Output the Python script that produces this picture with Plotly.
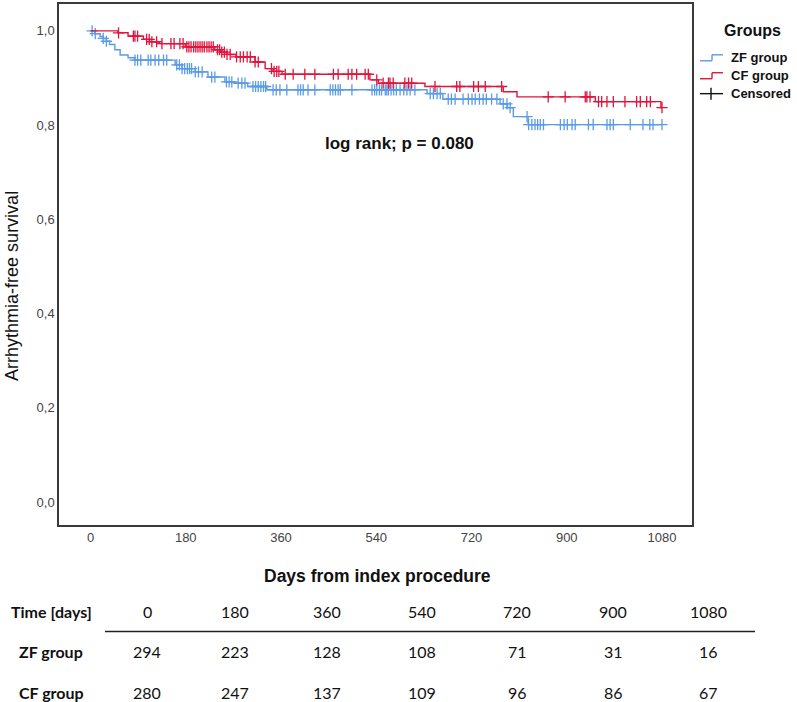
import numpy as np
import plotly.graph_objects as go

# ---------------- data ----------------
zf_event_days = [0, 8, 18, 24, 30, 36, 46, 56, 71, 84, 160, 173, 198, 222, 254, 273, 297, 333,
                 636, 666, 774, 788, 799, 827]
zf_surv = [1.0, 0.994, 0.988, 0.984, 0.978, 0.971, 0.960, 0.949, 0.943, 0.938, 0.928, 0.920,
           0.913, 0.902, 0.892, 0.889, 0.882, 0.875, 0.867, 0.855, 0.845, 0.837, 0.818, 0.801]

cf_event_days = [0, 52, 71, 100, 112, 130, 179, 235, 245, 258, 275, 311, 330, 345, 362, 528, 544,
                 632, 780, 806, 954, 1078]
cf_surv = [1.0, 0.996, 0.989, 0.982, 0.977, 0.973, 0.966, 0.960, 0.955, 0.950, 0.945, 0.934,
           0.920, 0.914, 0.908, 0.896, 0.889, 0.882, 0.871, 0.860, 0.850, 0.837]

zf_censored_days = [3, 9, 24, 30, 84, 89, 95, 109, 114, 122, 129, 138, 144, 163, 168, 173, 178,
                    183, 187, 191, 198, 204, 211, 229, 235, 257, 262, 267, 279, 286, 292, 307,
                    312, 317, 322, 327, 331, 345, 351, 358, 371, 392, 397, 402, 411, 424, 453,
                    458, 463, 468, 472, 494, 532, 537, 541, 546, 550, 557, 563, 560, 568, 573,
                    578, 585, 592, 598, 604, 613, 642, 648, 655, 661, 676, 682, 689, 704, 714,
                    721, 727, 735, 742, 748, 758, 768, 780, 787, 793, 825, 828, 834, 840, 845,
                    850, 856, 888, 895, 901, 910, 916, 941, 950, 976, 982, 988, 1020, 1044,
                    1057, 1063, 1080]
cf_censored_days = [53, 81, 84, 89, 106, 111, 116, 125, 135, 152, 158, 169, 175, 182, 186, 190,
                    195, 199, 203, 207, 211, 215, 220, 224, 228, 232, 240, 244, 248, 253, 258,
                    264, 276, 283, 289, 296, 302, 311, 317, 342, 347, 352, 356, 368, 383, 405,
                    424, 459, 468, 487, 494, 503, 519, 525, 541, 553, 563, 566, 572, 594, 601,
                    607, 651, 692, 698, 724, 733, 746, 777, 865, 897, 935, 938, 944, 960, 966,
                    976, 988, 1010, 1032, 1039, 1051, 1058, 1080]

x_tick_vals = [0, 180, 360, 540, 720, 900, 1080]
y_tick_vals = [0.0, 0.2, 0.4, 0.6, 0.8, 1.0]
y_tick_labels = ["0,0", "0,2", "0,4", "0,6", "0,8", "1,0"]

table_header = ["0", "180", "360", "540", "720", "900", "1080"]
zf_at_risk = [294, 223, 128, 108, 71, 31, 16]
cf_at_risk = [280, 247, 137, 109, 96, 86, 67]

# ---------------- styling ----------------
W, H = 797, 702
L, R, T, B = 59, 692, 2, 525
BLUE = "#5A9BE6"
RED = "#E0143C"
FRAME = "#3a3a3a"
AX_FONT = "Liberation Sans, Arial, sans-serif"
TAB_FONT = "Lato, Open Sans, sans-serif"


def px(xp):
    return (xp - L) / (R - L)


def py(yp):
    return (B - yp) / (B - T)


def step_value(times, surv, t):
    idx = np.searchsorted(np.array(times), np.array(t), side="right") - 1
    return np.array(surv)[idx]


fig = go.Figure()

for name, times, surv, cens, col in [
    ("ZF group", zf_event_days, zf_surv, zf_censored_days, BLUE),
    ("CF group", cf_event_days, cf_surv, cf_censored_days, RED),
]:
    xs = list(times) + [1080]
    ys = list(surv) + [surv[-1]]
    fig.add_trace(go.Scatter(x=xs, y=ys, mode="lines", line=dict(color=col, width=1.4, shape="hv"),
                             name=name, showlegend=False, hoverinfo="skip"))
    fig.add_trace(go.Scatter(x=cens, y=step_value(times, surv, cens), mode="markers",
                             marker=dict(symbol="cross-thin", size=8, color=col,
                                         line=dict(width=1.3, color=col)),
                             showlegend=False, hoverinfo="skip"))

x_lo = -(90.5 - L) / 0.5292
x_hi = 1080 + (R - 662) / 0.5292
y_lo = -(B - 502) / 473
y_hi = 1 + (29 - T) / 473

fig.update_xaxes(range=[x_lo, x_hi], tickvals=x_tick_vals, ticks="", showgrid=False, zeroline=False,
                 showline=True, mirror=True, linecolor=FRAME, linewidth=1.5,
                 tickfont=dict(family=AX_FONT, size=13, color="#444"))
fig.update_yaxes(range=[y_lo, y_hi], tickvals=y_tick_vals, ticktext=y_tick_labels, ticks="",
                 showgrid=False, zeroline=False, showline=True, mirror=True, linecolor=FRAME,
                 linewidth=1.5, tickfont=dict(family=AX_FONT, size=13, color="#444"))

ann = []
shapes = []


def note(text, x, y, font, size, xanchor="center", angle=0, color="#111"):
    ann.append(dict(text=text, x=px(x), y=py(y), xref="paper", yref="paper", showarrow=False,
                    xanchor=xanchor, yanchor="middle", textangle=angle,
                    font=dict(family=font, size=size, color=color)))


# axis titles
note("<b>Days from index procedure</b>", 377, 576, AX_FONT, 17.5)
note("Arrhythmia-free survival", 12, 285, AX_FONT, 18, angle=-90)
note("<b>log rank; p = 0.080</b>", 399, 142, AX_FONT, 17)

# legend
note("<b>Groups</b>", 752, 29, AX_FONT, 16)
for label, yy, col in [("ZF group", 56, BLUE), ("CF group", 74, RED), ("Censored", 92, "#111")]:
    note("<b>" + label + "</b>", 729, yy, AX_FONT, 13, xanchor="left")
    if label == "Censored":
        segs = [((700, yy), (723, yy)), ((711, yy - 6), (711, yy + 6))]
    else:
        segs = [((700, yy + 3), (712, yy + 3)), ((712, yy + 3), (712, yy - 3)), ((712, yy - 3), (723, yy - 3))]
    for (x0, y0), (x1, y1) in segs:
        shapes.append(dict(type="line", xref="paper", yref="paper", x0=px(x0), y0=py(y0),
                           x1=px(x1), y1=py(y1), line=dict(color=col, width=1.4)))

# number-at-risk table
col_x = [147, 235, 327, 422, 517, 613, 708]
rows = [("Time [days]", 612, table_header), ("ZF group", 652, zf_at_risk), ("CF group", 693, cf_at_risk)]
for lab, yy, vals in rows:
    note("<b>" + lab + "</b>", 51, yy, TAB_FONT, 16)
    for cx, v in zip(col_x, vals):
        note(str(v), cx, yy, TAB_FONT, 16)
shapes.append(dict(type="line", xref="paper", yref="paper", x0=px(105), x1=px(755), y0=py(632), y1=py(632),
                   line=dict(color="#222", width=1.5)))

fig.update_layout(width=W, height=H, margin=dict(l=L, r=W - R, t=T, b=H - B),
                  paper_bgcolor="white", plot_bgcolor="white", annotations=ann, shapes=shapes,
                  showlegend=False)

fig.write_html("out.html", config={"displayModeBar": False},
               post_script="document.body.style.margin='0';document.body.style.overflow='hidden';")
